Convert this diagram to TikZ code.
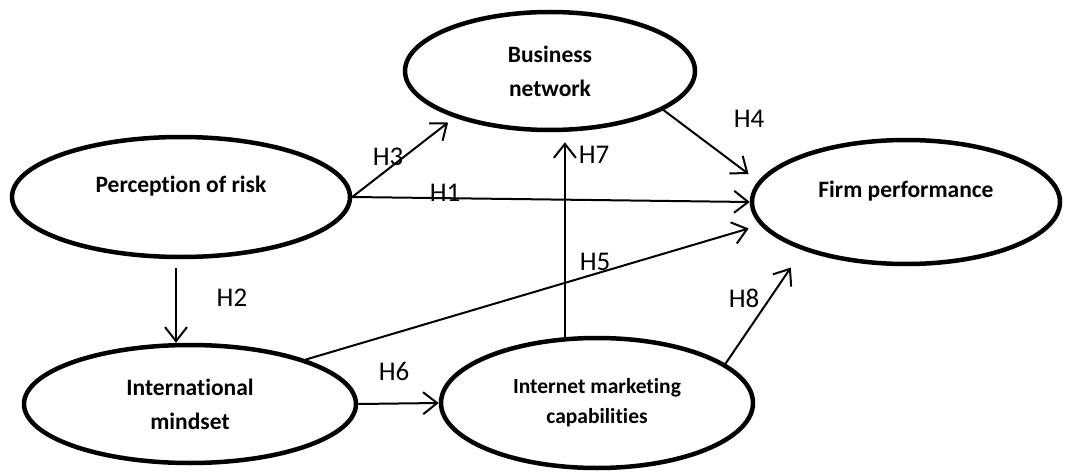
\documentclass[tikz,border=0pt]{standalone}
\usepackage{fontspec}
\setmainfont{Carlito}[Ligatures=NoCommon]
\usetikzlibrary{arrows.meta,shapes.geometric,positioning}
\tikzset{
  construct/.style={draw, ellipse, line width=4.5pt, inner sep=0pt, align=center, font=\bfseries\fontsize{23.5}{34}\selectfont},
  arrow/.style={-{Straight Barb[length=14pt,width=22pt]}, line width=2pt},
  hyp/.style={inner sep=0pt, font=\fontsize{27}{32}\selectfont}
}

\begin{document}
\begin{tikzpicture}[x=1pt,y=1pt]
  \useasboundingbox (0,0) rectangle (1066,475);
  % constructs
  \node[construct, minimum width=338pt, minimum height=120pt, text height=16pt, text depth=25.5pt] (risk) at (181,278) {Perception of risk};
  \node[construct, minimum width=290pt, minimum height=118pt] (network) at (550,404) {Business\\network};
  \node[construct, minimum width=308pt, minimum height=124pt, text height=16pt, text depth=26pt] (firm) at (906,273) {Firm performance};
  \node[construct, minimum width=332pt, minimum height=118pt] (mindset) at (190,71) {International\\mindset};
  \node[construct, minimum width=312pt, minimum height=130pt, font=\bfseries\fontsize{21.5}{30}\selectfont] (imc) at (597,72) {Internet marketing\\capabilities};

  % hypothesised paths
  \draw[arrow] (risk.east) -- (firm.west);
  \draw[arrow, shorten >=8pt] (risk.east) -- (network.206);
  \draw[arrow, shorten <=9pt] ([xshift=-5pt]risk.south) -- ([xshift=-5pt]risk.south |- mindset.north);
  \draw[arrow, shorten >=12pt] (network.341) -- (firm.172);
  \draw[arrow, shorten >=12pt] (mindset.21) -- (firm.189);
  \draw[arrow] (mindset.east) -- (imc.west);
  \draw[arrow, shorten >=10pt] (imc.116) -- (imc.116 |- network.south);
  \draw[arrow, shorten >=21pt] (imc.17) -- (firm.205);

  \node[hyp] (h1) at (445,282) {H1};
  \node[hyp] (h2) at (232,177) {H2};
  \node[hyp] (h3) at (388,318) {H3};
  \node[hyp] (h4) at (749,356) {H4};
  \node[hyp] (h5) at (595,213) {H5};
  \node[hyp] (h6) at (394,104) {H6};
  \node[hyp] (h7) at (594,320) {H7};
  \node[hyp] (h8) at (744,177) {H8};
\end{tikzpicture}
\end{document}
